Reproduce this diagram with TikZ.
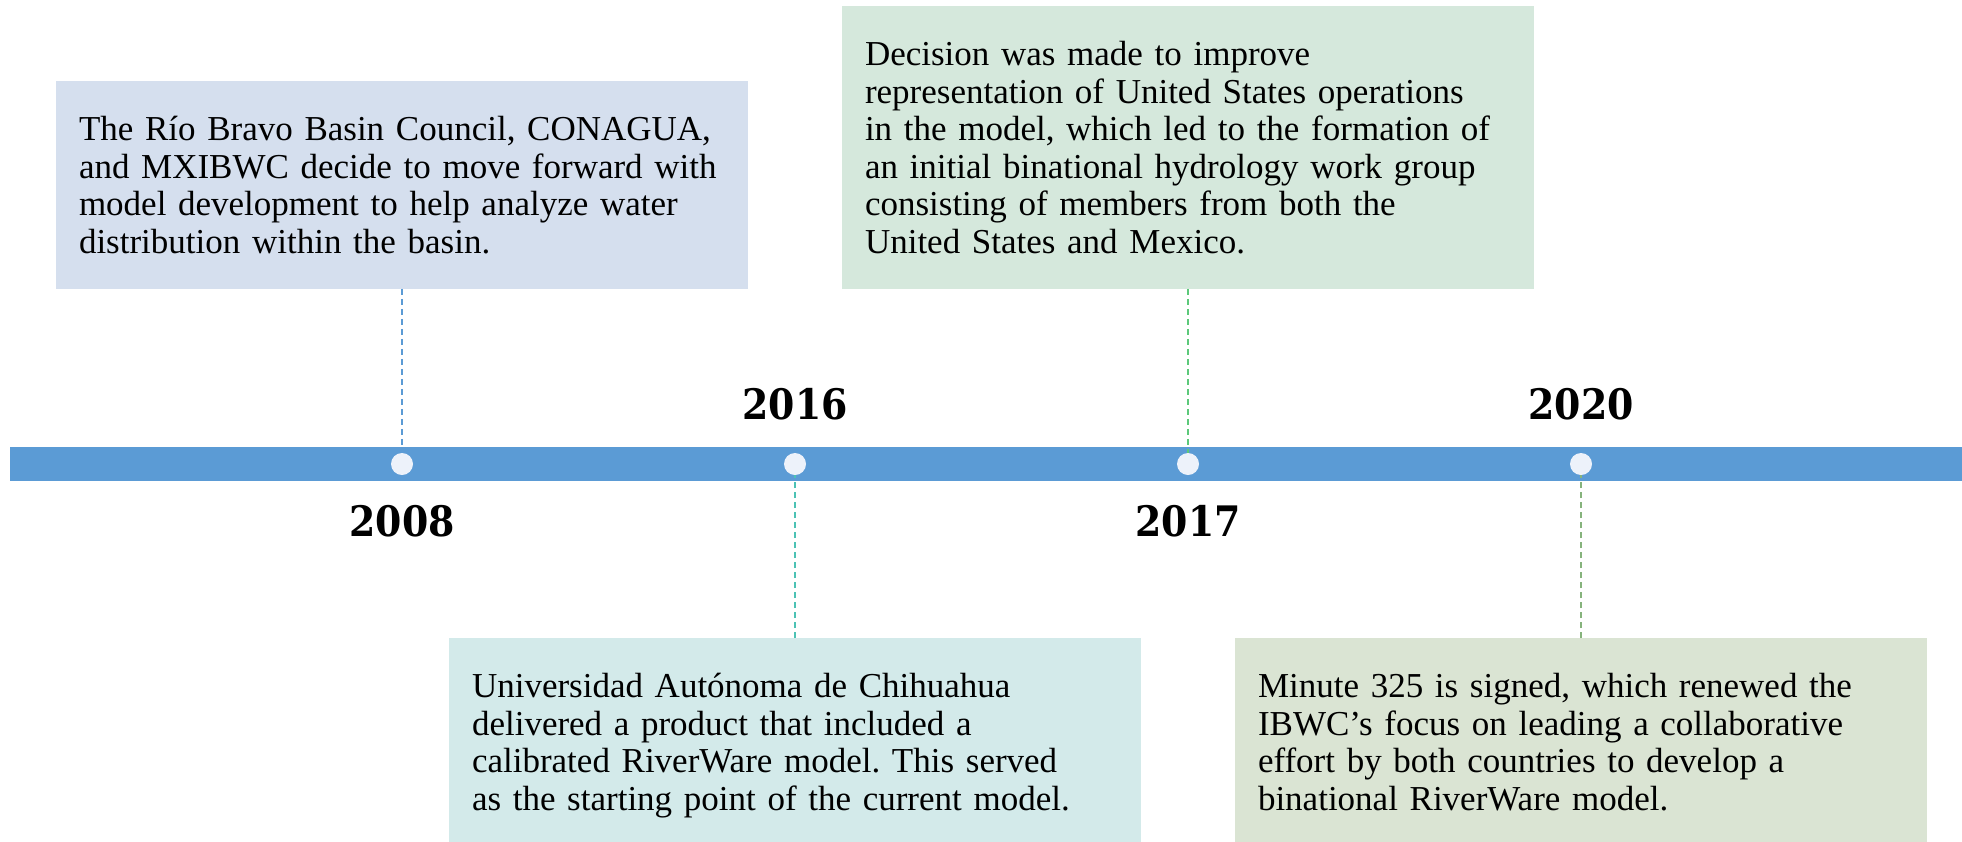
\documentclass[tikz,border=0pt]{standalone}
\usepackage{fontspec}
\setmainfont{Liberation Serif}
\newfontfamily\yearfont{DejaVu Serif Condensed}
\usetikzlibrary{positioning}
\frenchspacing
\definecolor{barblue}{HTML}{5B9BD5}
\definecolor{dotfill}{HTML}{EDF2FA}
\definecolor{fillA}{HTML}{D5DFEE}
\definecolor{fillB}{HTML}{D3EAEA}
\definecolor{fillC}{HTML}{D5E8DC}
\definecolor{fillD}{HTML}{DAE4D3}
\definecolor{lineA}{HTML}{5B9BD5}
\definecolor{lineB}{HTML}{4CC2B4}
\definecolor{lineC}{HTML}{5CC97A}
\definecolor{lineD}{HTML}{86B37C}
\begin{document}
\begin{tikzpicture}[x=1pt,y=-1pt,
	box/.style={rectangle, text width=646pt, inner xsep=23pt, inner ysep=35pt, align=left, font=\fontsize{35}{37.5}\selectfont},
	dot/.style={circle, fill=dotfill, minimum size=22pt, inner sep=0pt},
	year/.style={inner sep=0pt, font=\yearfont\bfseries\fontsize{42}{42}\selectfont},
	link/.style={dash pattern=on 6pt off 4pt, line width=1.5pt}]
	\useasboundingbox (0,0) rectangle (1962,841);
	\fill[barblue] (10,447) rectangle (1962,481);
	% points on the time line
	\node (d2008) [dot] at (402,464) {};
	\node (d2016) [dot] at (795,464) {};
	\node (d2017) [dot] at (1188,464) {};
	\node (d2020) [dot] at (1581,464) {};
	% years
	\node (y2008) [year, below=30pt of d2008] {2008};
	\node (y2016) [year, above=33pt of d2016] {2016};
	\node (y2017) [year, below=30pt of d2017] {2017};
	\node (y2020) [year, above=33pt of d2020] {2020};
	% events
	\node (e2008) [box, fill=fillA, above=164pt of d2008] {The Río Bravo Basin Council, CONAGUA,\\and MXIBWC decide to move forward with\\model development to help analyze water\\distribution within the basin.};
	\node (e2016) [box, fill=fillB, below=163pt of d2016] {Universidad Autónoma de Chihuahua\\delivered a product that included a\\calibrated RiverWare model. This served\\as the starting point of the current model.};
	\node (e2017) [box, fill=fillC, above=164pt of d2017] {Decision was made to improve\\representation of United States operations\\in the model, which led to the formation of\\an initial binational hydrology work group\\consisting of members from both the\\United States and Mexico.};
	\node (e2020) [box, fill=fillD, below=163pt of d2020] {Minute 325 is signed, which renewed the\\IBWC’s focus on leading a collaborative\\effort by both countries to develop a\\binational RiverWare model.};
	\draw[link, lineA] (e2008) -- (d2008);
	\draw[link, lineB] (e2016) -- (d2016);
	\draw[link, lineC] (e2017) -- (d2017);
	\draw[link, lineD] (e2020) -- (d2020);
\end{tikzpicture}
\end{document}
